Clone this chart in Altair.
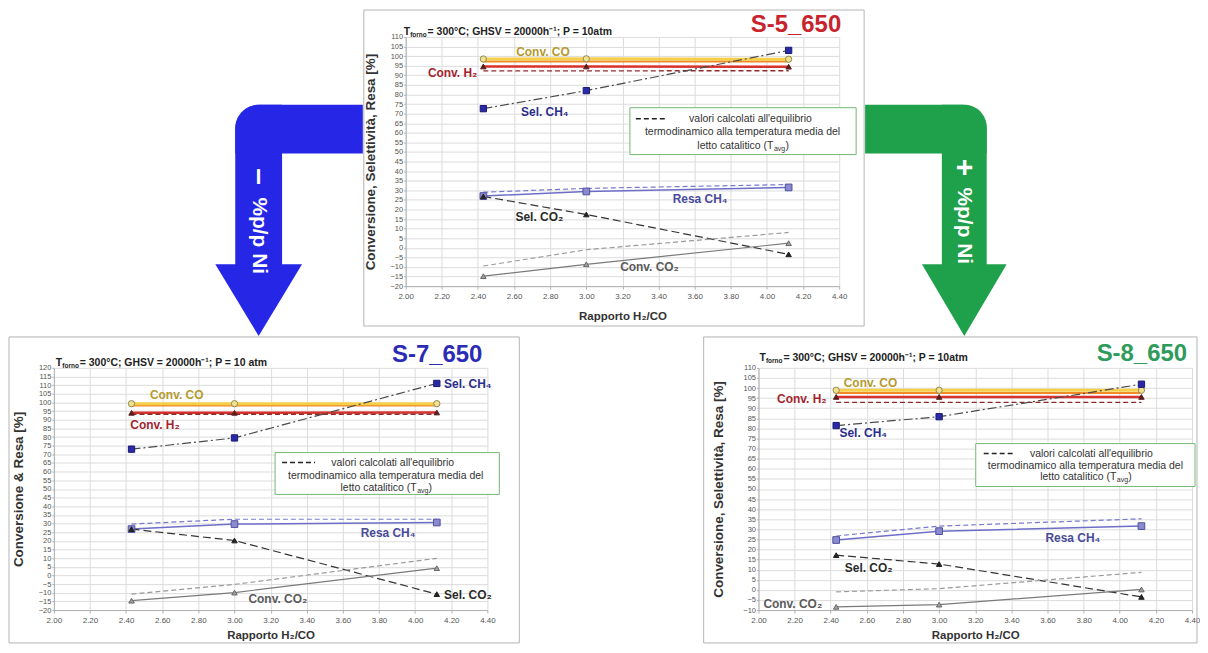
import altair as alt
import pandas as pd

FONT = "Liberation Sans"

# ---------------- data ----------------
RATIO = [2.43, 3.00, 4.12]
X_TICKS = [2.0, 2.2, 2.4, 2.6, 2.8, 3.0, 3.2, 3.4, 3.6, 3.8, 4.0, 4.2, 4.4]

SERIES = ["conv_co_eq", "conv_co", "conv_h2", "conv_h2_eq", "sel_ch4",
          "resa_ch4_eq", "resa_ch4", "sel_co2", "conv_co2_eq", "conv_co2"]

# S-5_650
S5_CONV_CO = [98.5, 98.6, 98.4]
S5_CONV_CO_EQ = [97.2, 97.2, 97.2]
S5_CONV_H2 = [94.6, 94.6, 94.5]
S5_CONV_H2_EQ = [92.3, 92.3, 92.4]
S5_SEL_CH4 = [72.6, 82.0, 103.0]
S5_RESA_CH4 = [27.0, 29.4, 31.5]
S5_RESA_CH4_EQ = [29.0, 31.0, 33.0]
S5_SEL_CO2 = [26.8, 17.4, -3.4]
S5_CONV_CO2 = [-14.8, -8.6, 2.4]
S5_CONV_CO2_EQ = [-9.5, -1.0, 8.0]

# S-7_650
S7_CONV_CO = [99.3, 99.3, 99.3]
S7_CONV_CO_EQ = [98.3, 98.3, 98.3]
S7_CONV_H2 = [94.0, 94.0, 94.2]
S7_CONV_H2_EQ = [93.2, 93.2, 93.2]
S7_SEL_CH4 = [73.0, 79.5, 111.0]
S7_RESA_CH4 = [26.8, 29.7, 30.6]
S7_RESA_CH4_EQ = [29.7, 32.5, 32.5]
S7_SEL_CO2 = [26.8, 20.2, -10.8]
S7_CONV_CO2 = [-14.6, -9.9, 4.2]
S7_CONV_CO2_EQ = [-10.8, -5.2, 9.9]

# S-8_650
S8_CONV_CO = [98.9, 98.9, 98.9]
S8_CONV_CO_EQ = [97.5, 97.5, 97.5]
S8_CONV_H2 = [95.6, 95.6, 95.6]
S8_CONV_H2_EQ = [92.9, 92.9, 92.9]
S8_SEL_CH4 = [81.4, 85.8, 101.9]
S8_RESA_CH4 = [24.7, 29.1, 31.6]
S8_RESA_CH4_EQ = [26.7, 31.6, 35.2]
S8_SEL_CO2 = [17.2, 12.8, -3.5]
S8_CONV_CO2 = [-8.4, -7.3, 0.2]
S8_CONV_CO2_EQ = [-1.0, 0.6, 8.7]

LABELS = ["Conv. CO", "Conv. H\u2082", "Sel. CH\u2084", "Resa CH\u2084", "Sel. CO\u2082", "Conv. CO\u2082"]
S5_LABEL_X = [2.76, 2.26, 2.77, 3.63, 2.74, 3.35]
S5_LABEL_Y = [102.2, 91.3, 71.0, 25.2, 15.9, -10.0]
S7_LABEL_X = [2.68, 2.56, 4.16, 3.85, 4.16, 3.24]
S7_LABEL_Y = [104.2, 87.2, 110.6, 24.6, -11.5, -13.8]
S8_LABEL_X = [2.62, 2.24, 2.58, 3.74, 2.61, 2.19]
S8_LABEL_Y = [102.5, 94.7, 77.5, 25.5, 10.8, -6.9]

ARROW_TEXT = "%p/p Ni"

# arrows (local coordinates of their cells)
ARROW_L_BAR_X = [182, 310]
ARROW_L_BAR_Y = [68, 117]
ARROW_L_SHAFT_X = [182, 229]
ARROW_L_SHAFT_Y = [68, 229]
ARROW_L_HEAD_X = [162, 205.5, 249]
ARROW_L_HEAD_Y = [228, 228, 228]
ARROW_L_HEAD_Y2 = [228, 300, 228]

ARROW_R_BAR_X = [0, 122]
ARROW_R_BAR_Y = [68, 117]
ARROW_R_SHAFT_X = [77, 122]
ARROW_R_SHAFT_Y = [68, 229]
ARROW_R_HEAD_X = [57, 99.5, 142]
ARROW_R_HEAD_Y = [228, 228, 228]
ARROW_R_HEAD_Y2 = [228, 300, 228]

# ---------------- styles ----------------
STYLE = {
    "conv_co_eq": dict(color="#F08C28", width=2.0),
    "conv_co": dict(color="#F6CF4A", width=3.0, shape="circle", fill="#F1E08C", stroke="#8F8A55", size=40),
    "conv_h2": dict(color="#D8322E", width=2.5, shape="triangle-up", fill="#5A1E1E", stroke="#5A1E1E", size=30),
    "conv_h2_eq": dict(color="#8E2A2A", width=1.4, dash=[5, 3]),
    "sel_ch4": dict(color="#4A4A4A", width=1.2, dash=[9, 3, 2, 3], shape="square", fill="#2A2AA8", stroke="#1A1A70", size=40),
    "resa_ch4_eq": dict(color="#7878D0", width=1.2, dash=[5, 3]),
    "resa_ch4": dict(color="#6E6EC8", width=1.5, shape="square", fill="#8A8AD0", stroke="#50509F", size=45),
    "sel_co2": dict(color="#333333", width=1.2, dash=[8, 4], shape="triangle-up", fill="#222222", stroke="#222222", size=30),
    "conv_co2_eq": dict(color="#9A9A9A", width=1.2, dash=[5, 3]),
    "conv_co2": dict(color="#7A7A7A", width=1.2, shape="triangle-up", fill="#A0A0A0", stroke="#666666", size=30),
}
LABEL_COLORS = ["#B59A2E", "#A3242E", "#2A2E8C", "#4A4A9A", "#2A2A2A", "#5A5A5A"]

PANEL_DATA = {
    "S5": dict(conv_co=S5_CONV_CO, conv_co_eq=S5_CONV_CO_EQ, conv_h2=S5_CONV_H2, conv_h2_eq=S5_CONV_H2_EQ,
               sel_ch4=S5_SEL_CH4, resa_ch4=S5_RESA_CH4, resa_ch4_eq=S5_RESA_CH4_EQ, sel_co2=S5_SEL_CO2,
               conv_co2=S5_CONV_CO2, conv_co2_eq=S5_CONV_CO2_EQ),
    "S7": dict(conv_co=S7_CONV_CO, conv_co_eq=S7_CONV_CO_EQ, conv_h2=S7_CONV_H2, conv_h2_eq=S7_CONV_H2_EQ,
               sel_ch4=S7_SEL_CH4, resa_ch4=S7_RESA_CH4, resa_ch4_eq=S7_RESA_CH4_EQ, sel_co2=S7_SEL_CO2,
               conv_co2=S7_CONV_CO2, conv_co2_eq=S7_CONV_CO2_EQ),
    "S8": dict(conv_co=S8_CONV_CO, conv_co_eq=S8_CONV_CO_EQ, conv_h2=S8_CONV_H2, conv_h2_eq=S8_CONV_H2_EQ,
               sel_ch4=S8_SEL_CH4, resa_ch4=S8_RESA_CH4, resa_ch4_eq=S8_RESA_CH4_EQ, sel_co2=S8_SEL_CO2,
               conv_co2=S8_CONV_CO2, conv_co2_eq=S8_CONV_CO2_EQ),
}
PANEL_LABELS = {
    "S5": (S5_LABEL_X, S5_LABEL_Y, ["center"] * 6),
    "S7": (S7_LABEL_X, S7_LABEL_Y, ["center", "center", "left", "center", "left", "center"]),
    "S8": (S8_LABEL_X, S8_LABEL_Y, ["center"] * 6),
}

ONE = pd.DataFrame({"k": [0]})


def vtext(s, x, y, size, color="#222222", weight="normal", align="left", angle=0):
    mk = dict(text=s, fontSize=size, fontWeight=weight, color=color, align=align,
              baseline="middle", font=FONT)
    if angle:
        mk["angle"] = angle
    return alt.Chart(ONE).mark_text(**mk).encode(x=alt.value(x), y=alt.value(y))


def panel(pid, cfg):
    W, H = cfg["W"], cfg["H"]
    ydom = cfg["ydom"]
    xs = alt.Scale(domain=[2.0, 4.4], nice=False, zero=False)
    ys = alt.Scale(domain=ydom, nice=False, zero=False)
    xaxis = alt.Axis(values=X_TICKS, format=".2f", title="Rapporto H\u2082/CO",
                     labelFontSize=8, labelColor="#555555", labelFont=FONT, labelOverlap=False,
                     labelFlush=False, labelPadding=3, tickSize=3, tickColor="#b0b0b0",
                     domainColor="#b0b0b0", gridColor="#dcdcdc",
                     titleFont=FONT, titleFontSize=11.5, titleFontWeight="bold", titleColor="#333333",
                     titlePadding=cfg["xtp"])
    yaxis = alt.Axis(values=list(range(ydom[0], ydom[1] + 1, 5)), title=cfg["ytitle"],
                     labelFontSize=7.5, labelColor="#555555", labelFont=FONT, labelOverlap=False,
                     labelFlush=False, labelPadding=1, tickSize=2, tickColor="#b0b0b0",
                     domainColor="#b0b0b0", gridColor="#dcdcdc",
                     titleFont=FONT, titleFontSize=13.5, titleFontWeight="bold", titleColor="#333333",
                     titleX=cfg["ytx"], titleY=H / 2, titleAngle=270, titleBaseline="middle",
                     titleAlign="center")

    def X(f="x"):
        return alt.X(f"{f}:Q", scale=xs, axis=xaxis)

    def Y(f="y"):
        return alt.Y(f"{f}:Q", scale=ys, axis=yaxis)

    layers = []
    fl, fr, ft, fb = cfg["frame"]
    layers.append(alt.Chart(ONE).mark_rect(fill="white", fillOpacity=0, stroke="#b4b4b4", strokeWidth=1)
                  .encode(x=alt.value(fl), x2=alt.value(fr), y=alt.value(ft), y2=alt.value(fb)))

    data = PANEL_DATA[pid]
    for s in SERIES:
        st = STYLE[s]
        df = pd.DataFrame({"x": RATIO, "y": data[s]})
        lk = dict(color=st["color"], strokeWidth=st["width"])
        if "dash" in st:
            lk["strokeDash"] = st["dash"]
        layers.append(alt.Chart(df).mark_line(**lk).encode(x=X(), y=Y()))
    for s in SERIES:
        st = STYLE[s]
        if "shape" not in st:
            continue
        df = pd.DataFrame({"x": RATIO, "y": data[s]})
        layers.append(alt.Chart(df).mark_point(shape=st["shape"], filled=True, fill=st["fill"],
                                               stroke=st["stroke"], strokeWidth=1, size=st["size"], opacity=1)
                      .encode(x=X(), y=Y()))

    lx, ly, la = PANEL_LABELS[pid]
    for i, t in enumerate(LABELS):
        df = pd.DataFrame({"x": [lx[i]], "y": [ly[i]]})
        layers.append(alt.Chart(df).mark_text(text=t, fontSize=12, fontWeight="bold", color=LABEL_COLORS[i],
                                              align=la[i], baseline="middle", font=FONT)
                      .encode(x=X(), y=Y()))

    # header
    hx, hy = cfg["header"]
    layers.append(vtext("T", hx, hy, 10.5, weight="bold"))
    layers.append(vtext("forno", hx + 6.5, hy + 3, 6.5, weight="bold"))
    layers.append(vtext(cfg["header_rest"], hx + 24, hy, 10.5, weight="bold"))
    # big title
    tx, ty = cfg["title_pos"]
    layers.append(vtext(cfg["title"], tx, ty, 24, color=cfg["title_color"], weight="bold", align="right"))

    # legend box
    bx0, bx1, by0, by1 = cfg["lbox"]
    layers.append(alt.Chart(ONE).mark_rect(fill="white", stroke="#73B873", strokeWidth=1)
                  .encode(x=alt.value(bx0), x2=alt.value(bx1), y=alt.value(by0), y2=alt.value(by1)))
    d0, d1 = cfg["ldash"]
    l1y, l2y, l3y = cfg["lrows"]
    c1, c2, c3 = cfg["lcenters"]
    layers.append(alt.Chart(ONE).mark_rule(color="#222222", strokeDash=[5, 3], strokeWidth=1.6)
                  .encode(x=alt.value(d0), x2=alt.value(d1), y=alt.value(l1y)))
    layers.append(vtext("valori calcolati all'equilibrio", c1, l1y, 10.5, color="#333333", align="center"))
    layers.append(vtext("termodinamico alla temperatura media del", c2, l2y, 10.5, color="#333333", align="center"))
    p = c3 + 31
    layers.append(vtext("letto catalitico (T", p, l3y, 10.5, color="#333333", align="right"))
    layers.append(vtext("avg", p + 0.5, l3y + 3, 7, color="#333333"))
    layers.append(vtext(")", p + 12, l3y, 10.5, color="#333333"))

    return alt.layer(*layers).properties(width=W, height=H)


def arrow(width, height, color, bar_x, bar_y, shaft_x, shaft_y, hx, hy, hy2, corner, sign, tx, sign_y, text_y):
    xs = alt.Scale(domain=[0, width], nice=False, zero=False)
    ys = alt.Scale(domain=[0, height], nice=False, zero=False, reverse=True)

    def X(f):
        return alt.X(f"{f}:Q", scale=xs, axis=None)

    def Y(f):
        return alt.Y(f"{f}:Q", scale=ys, axis=None)

    rk = dict(color=color)
    rk["cornerRadiusTopLeft" if corner == "left" else "cornerRadiusTopRight"] = 26
    bar = alt.Chart(pd.DataFrame({"x": [bar_x[0]], "x2": [bar_x[1]], "y": [bar_y[0]], "y2": [bar_y[1]]})) \
        .mark_rect(**rk).encode(x=X("x"), x2="x2:Q", y=Y("y"), y2="y2:Q")
    shaft = alt.Chart(pd.DataFrame({"x": [shaft_x[0]], "x2": [shaft_x[1]], "y": [shaft_y[0]], "y2": [shaft_y[1]]})) \
        .mark_rect(**rk).encode(x=X("x"), x2="x2:Q", y=Y("y"), y2="y2:Q")
    head = alt.Chart(pd.DataFrame({"x": hx, "y": hy, "y2": hy2})) \
        .mark_area(color=color, opacity=1).encode(x=X("x"), y=Y("y"), y2="y2:Q")
    t1 = alt.Chart(pd.DataFrame({"x": [tx], "y": [text_y]})).mark_text(
        text=ARROW_TEXT, angle=90, fontSize=21, fontWeight="bold", color="white", font=FONT,
        align="left", baseline="middle").encode(x=X("x"), y=Y("y"))
    t2 = alt.Chart(pd.DataFrame({"x": [tx], "y": [sign_y]})).mark_text(
        text=sign, angle=90, fontSize=30, fontWeight="bold", color="white", font=FONT,
        align="center", baseline="middle").encode(x=X("x"), y=Y("y"))
    return alt.layer(bar, shaft, head, t1, t2).properties(width=width, height=height)


top = panel("S5", dict(
    W=435, H=250, ydom=[-20, 110], ytitle="Conversione, Selettività, Resa [%]", ytx=-35, xtp=10,
    frame=(-42, 460, -27, 290), header=(-2, -5),
    header_rest="= 300°C; GHSV = 20000h\u207b\u00b9; P = 10atm",
    title="S-5_650", title_color="#C8232C", title_pos=(437, -12),
    lbox=(225, 452, 71, 118), ldash=(231, 260), lrows=(82, 95, 109), lcenters=(346, 338, 338)))

left = panel("S7", dict(
    W=435, H=243, ydom=[-20, 120], ytitle="Conversione & Resa [%]", ytx=-35, xtp=6,
    frame=(-45, 467, -31, 276), header=(2, -5),
    header_rest="= 300°C; GHSV = 20000h\u207b\u00b9; P = 10 atm",
    title="S-7_650", title_color="#2B2BB5", title_pos=(430, -13),
    lbox=(222, 447, 85, 127), ldash=(229, 262), lrows=(95, 109, 121), lcenters=(340, 333, 333)))

right = panel("S8", dict(
    W=435, H=243, ydom=[-10, 110], ytitle="Conversione, Selettività, Resa [%]", ytx=-40, xtp=6,
    frame=(-55, 440, -31, 276), header=(1, -10),
    header_rest="= 300°C; GHSV = 20000h\u207b\u00b9; P = 10atm",
    title="S-8_650", title_color="#2E9B5A", title_pos=(430, -14),
    lbox=(218, 438, 76, 119), ldash=(226, 258), lrows=(86, 98, 110), lcenters=(334, 328, 328)))

arrow_l = arrow(310, 300, "#2626E6", ARROW_L_BAR_X, ARROW_L_BAR_Y, ARROW_L_SHAFT_X, ARROW_L_SHAFT_Y,
                ARROW_L_HEAD_X, ARROW_L_HEAD_Y, ARROW_L_HEAD_Y2, "left", "\u2013", 205.5, 140, 161)
arrow_r = arrow(330, 300, "#1FA04A", ARROW_R_BAR_X, ARROW_R_BAR_Y, ARROW_R_SHAFT_X, ARROW_R_SHAFT_Y,
                ARROW_R_HEAD_X, ARROW_R_HEAD_Y, ARROW_R_HEAD_Y2, "right", "+", 99.5, 131, 151)

row1 = alt.hconcat(arrow_l, top, arrow_r, spacing=0)
row2 = alt.hconcat(left, right, spacing=183)

chart = alt.vconcat(row1, row2, spacing=0).properties(padding=0) \
    .configure(font=FONT).configure_view(strokeOpacity=0)

chart.save("out.html", embed_options={"renderer": "svg", "actions": False})
